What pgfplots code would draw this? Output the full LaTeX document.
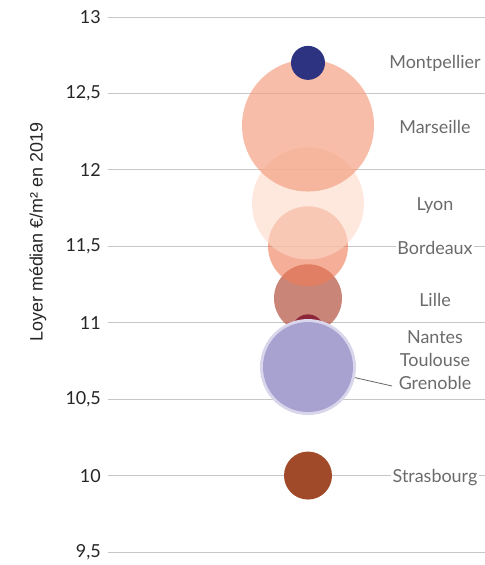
\documentclass[border=0pt]{standalone}
\usepackage{fontspec}
\setmainfont{Lato}
\newfontfamily\arialfont{Liberation Sans}
\usepackage{pgfplots}
\pgfplotsset{compat=1.18}
\definecolor{cMont}{HTML}{2E3381}
\definecolor{cMars}{HTML}{F4A183}
\definecolor{cLyon}{HTML}{FDD9C8}
\definecolor{cBord}{HTML}{EE7A55}
\definecolor{cLille}{HTML}{B85C4C}
\definecolor{cNant}{HTML}{8E2437}
\definecolor{cToul}{HTML}{D9D6EC}
\definecolor{cGren}{HTML}{A8A2D0}
\definecolor{cStras}{HTML}{A04A2A}
\definecolor{lab}{HTML}{6B6B6B}
\definecolor{tick}{HTML}{262626}
\begin{document}
\begin{tikzpicture}
\begin{axis}[
  scale only axis, width=377bp, height=535bp,
  xmin=0, xmax=377, ymin=9.5, ymax=13,
  axis line style={draw=none},
  xtick=\empty,
  ytick={9.5,10,10.5,11,11.5,12,12.5,13},
  ymajorgrids, major tick length=0pt,
  grid style={color=black!22, line width=0.8bp},
  /pgf/number format/.cd, use comma, assume math mode=true, /pgfplots/.cd,
  yticklabel style={font=\fontsize{18}{20}\selectfont, text=tick, inner sep=0pt, anchor=east, xshift=-7bp},
  ylabel={\arialfont\fontsize{18}{20}\selectfont Loyer médian €/m² en 2019},
  ylabel style={text=tick, at={(axis description cs:-0.1857,0.598)}, anchor=center},
  clip=false,
  every axis plot/.append style={only marks, mark=*, draw opacity=0},
]
\addplot[color=cLille, mark size=34bp, fill opacity=0.75] coordinates {(200,11.16)};
\addplot[color=cBord, mark size=40bp, fill opacity=0.6] coordinates {(200,11.50)};
\addplot[color=cLyon, mark size=56bp, fill opacity=0.6] coordinates {(200,11.78)};
\addplot[color=cMars, mark size=66bp, fill opacity=0.7] coordinates {(200,12.29)};
\addplot[color=cMont, mark size=17bp] coordinates {(200,12.70)};
\addplot[color=cNant, mark size=16bp] coordinates {(200,10.95)};
\addplot[color=cToul, mark size=48bp] coordinates {(200,10.71)};
\addplot[color=cGren, mark size=45bp] coordinates {(200,10.71)};
\addplot[color=cStras, mark size=24bp] coordinates {(200,10.00)};
\addplot[color=black!60, line width=0.8bp, no marks, draw opacity=1, sharp plot] coordinates {(200,10.71) (284,10.586)};
\begin{scope}[every node/.style={fill=white, text=lab, inner sep=1.5bp, font=\fontsize{18}{20}\selectfont}]
\node at (axis cs:327,12.699) {Montpellier};
\node at (axis cs:327,12.28) {Marseille};
\node at (axis cs:327,11.764) {Lyon};
\node at (axis cs:327,11.489) {Bordeaux};
\node at (axis cs:327,11.149) {Lille};
\node at (axis cs:327,10.907) {Nantes};
\node at (axis cs:327,10.756) {Toulouse};
\node at (axis cs:327,10.606) {Grenoble};
\node at (axis cs:327,9.985) {Strasbourg};
\end{scope}
\end{axis}
\pgfresetboundingbox
\path[use as bounding box] ([xshift=-108bp,yshift=-13bp]current axis.south west) rectangle ([yshift=17bp]current axis.north east);
\end{tikzpicture}
\end{document}
